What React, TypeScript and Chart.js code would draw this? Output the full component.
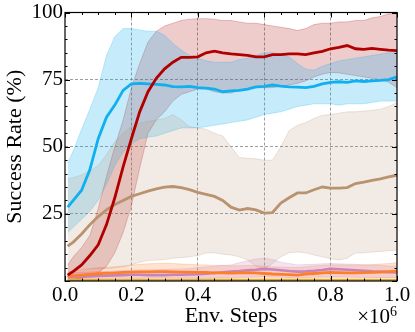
import React, { useEffect, useRef } from 'react';
import { Chart, registerables } from 'chart.js';
Chart.register(...registerables);

const steps = [0.008, 0.025, 0.05, 0.075, 0.1, 0.125, 0.15, 0.175, 0.2, 0.225, 0.25, 0.275, 0.3, 0.325, 0.35, 0.375, 0.4, 0.425, 0.45, 0.475, 0.5, 0.525, 0.55, 0.575, 0.6, 0.625, 0.65, 0.675, 0.7, 0.725, 0.75, 0.775, 0.8, 0.825, 0.85, 0.875, 0.9, 0.925, 0.95, 0.975, 1.0];

const blueMean = [27.5, 30, 33.8, 41.5, 53, 61, 65.5, 71, 73.4, 73.6, 73.4, 73.2, 73, 72.4, 72.3, 72.5, 72, 71.8, 71.5, 70.5, 70.8, 71, 71.5, 72.3, 72.5, 73, 72.6, 72.3, 72.2, 72, 72.5, 73.4, 74, 74.2, 74, 74.5, 74.3, 74.5, 74.7, 75, 76];
const blueUpper = [44, 48.5, 56.5, 64, 72, 84, 91, 94, 94, 93.5, 93, 93, 91.5, 88.5, 86, 84, 83, 82, 81.5, 81.5, 81.5, 82.5, 83, 84, 85, 85, 84.5, 83.5, 81, 79, 78.5, 80, 81, 82, 82.5, 83, 83.5, 84, 84.5, 85, 85];
const blueLower = [18, 20, 23, 26, 30, 36, 43, 48, 51, 53, 53.5, 54, 55, 56, 57, 57, 57, 57.5, 58, 58.5, 59, 59.5, 60, 61, 62, 62.5, 63, 64, 65, 65.5, 66, 66, 66, 65.5, 66, 66, 66, 66.5, 67, 67, 67];

const redMean = [2.2, 3.6, 6, 9.5, 13.5, 21, 31, 42.5, 53, 63, 70.5, 75.5, 79, 81.5, 83.3, 83.3, 83.5, 85, 85.6, 85, 84.6, 84.3, 84, 83.5, 83.5, 84.3, 84.3, 84.6, 84.6, 84.3, 85, 85.5, 86.5, 87, 87.7, 86.5, 86.3, 86.6, 86.3, 86, 85.8];
const redUpper = [6, 9, 12.5, 17, 27, 39, 50, 60, 72, 81, 89, 93, 95, 96, 97, 97.5, 97.7, 97.7, 97.5, 97, 97, 96.5, 96, 96, 95.5, 95, 94.5, 94, 93.3, 94, 95.5, 96, 96, 96.5, 96.5, 97, 97, 98, 98.5, 99.5, 99.6];
const redLower = [0, 0.5, 1, 2, 3, 5.5, 10.5, 18, 28, 42, 55, 60, 63, 67, 69.5, 70.5, 71.5, 71.5, 70.5, 70, 70, 71, 71.7, 72, 72, 72, 72.5, 73, 73.6, 74.5, 76, 77, 77.7, 77.5, 77, 76.5, 76, 75.5, 75, 74, 72];

const brownMean = [13, 14.5, 17.5, 21, 24, 26.5, 28.5, 30, 31.5, 32.5, 33.5, 34.3, 35, 35.2, 34.8, 34, 33, 32.3, 31.5, 30, 27.5, 26.4, 27, 26.5, 25.3, 25.5, 29, 31, 32.8, 32.8, 34, 35, 34.6, 34.6, 34.8, 36.3, 36.8, 37.5, 38, 38.8, 39.4];
const brownUpper = [38, 38.5, 39.5, 41, 43, 47, 52, 55, 57.5, 58.7, 59.5, 60, 60.5, 62, 60, 57.5, 57, 56.5, 55, 54, 50, 46, 45.7, 45.5, 45, 45, 50, 56, 58, 59, 60.5, 61.7, 62, 62.5, 63, 63, 63.3, 63.6, 64, 65, 66.5];
const brownLower = [4, 4, 4.5, 4.5, 4.5, 4.5, 4.8, 5.2, 6, 7, 7.6, 7.8, 8, 8.5, 8.7, 9, 9.5, 10.4, 10.5, 10, 9.7, 9, 7.8, 5.5, 4.5, 6.5, 9, 10.5, 10.8, 10.5, 9.7, 9, 8.3, 7.8, 8.5, 10.4, 10.5, 10.8, 11, 11.3, 11.5];

const orangeMean = [1.7, 1.9, 2.2, 2.5, 2.7, 2.9, 3.0, 3.2, 3.3, 3.4, 3.4, 3.5, 3.5, 3.4, 3.3, 3.3, 3.2, 3.2, 3.0, 3.0, 2.9, 3.0, 3.1, 3.0, 2.8, 2.6, 2.5, 2.4, 2.2, 2.6, 2.8, 3.0, 3.2, 3.1, 3.0, 3.0, 3.1, 3.2, 3.3, 3.5, 3.7];
const orangeUpper = [3.4, 3.7, 4.1, 4.5, 4.9, 5.1, 5.3, 5.6, 5.9, 6.2, 6.4, 6.5, 6.6, 6.5, 6.3, 6.2, 6.0, 6.0, 5.8, 5.8, 5.6, 5.7, 5.8, 5.7, 5.5, 5.3, 5.2, 5.1, 5.0, 5.3, 5.6, 5.8, 6.0, 6.0, 5.9, 5.9, 6.0, 6.1, 6.3, 6.5, 6.8];
const orangeLower = [0.6, 0.7, 0.8, 0.9, 0.9, 0.9, 1.0, 1.0, 1.0, 1.0, 1.1, 1.1, 1.2, 1.1, 1.1, 1.1, 1.0, 1.0, 1.0, 1.0, 0.9, 1.0, 1.0, 1.0, 0.9, 0.9, 0.8, 0.8, 0.8, 0.9, 0.9, 1.0, 1.0, 1.0, 1.0, 1.0, 1.0, 1.0, 1.1, 1.1, 1.2];

const purpleMean = [1.4, 1.5, 1.6, 1.7, 1.9, 2.0, 2.1, 2.2, 2.3, 2.3, 2.2, 2.2, 2.2, 2.3, 2.3, 2.4, 2.5, 2.7, 3.0, 3.2, 3.5, 3.7, 4.0, 4.2, 4.5, 4.3, 4.0, 3.7, 3.5, 3.6, 3.8, 4.1, 4.5, 4.4, 4.2, 4.0, 3.8, 3.6, 3.5, 3.3, 3.2];
const purpleUpper = [3.0, 3.1, 3.2, 3.3, 3.5, 3.6, 3.8, 3.9, 4.0, 4.1, 4.1, 4.2, 4.3, 4.4, 4.5, 4.7, 5.0, 5.2, 5.5, 5.8, 6.0, 6.8, 7.5, 8.2, 8.5, 8.0, 7.0, 6.5, 6.0, 6.1, 6.2, 6.4, 6.5, 6.4, 6.3, 6.2, 6.0, 5.9, 5.8, 5.6, 5.5];
const purpleLower = [0.4, 0.4, 0.4, 0.5, 0.5, 0.6, 0.6, 0.6, 0.7, 0.7, 0.7, 0.7, 0.7, 0.7, 0.7, 0.8, 0.8, 0.9, 1.0, 1.1, 1.2, 1.3, 1.4, 1.5, 1.6, 1.5, 1.4, 1.3, 1.2, 1.3, 1.4, 1.5, 1.6, 1.6, 1.5, 1.4, 1.4, 1.3, 1.3, 1.2, 1.2];

const goldMean = [0.3, 0.3, 0.3, 0.3, 0.3, 0.3, 0.3, 0.3, 0.3, 0.3, 0.3, 0.3, 0.3, 0.3, 0.3, 0.3, 0.3, 0.3, 0.3, 0.3, 0.3, 0.3, 0.3, 0.3, 0.3, 0.3, 0.3, 0.3, 0.3, 0.3, 0.3, 0.3, 0.3, 0.3, 0.3, 0.3, 0.3, 0.3, 0.3, 0.3, 0.3];

const xTickLabels = ['0.0', '0.2', '0.4', '0.6', '0.8', '1.0'];
const yTickLabels = ['', '25', '50', '75', '100'];

const FONT = "'Liberation Serif', 'DejaVu Serif', serif";

const rgba = (rgb: number[], a: number) => `rgba(${rgb[0]},${rgb[1]},${rgb[2]},${a})`;

const BLUE = [16, 176, 240];
const RED = [176, 0, 0];
const BROWN = [185, 146, 112];
const ORANGE = [255, 127, 40];
const PURPLE = [200, 130, 190];
const GOLD = [222, 176, 30];

const toPts = (arr: number[]) => arr.map((v, i) => ({ x: steps[i], y: v }));

const frameTicks = {
  id: 'frameTicks',
  afterDatasetsDraw(chart: any) {
    const { ctx, chartArea, scales } = chart;
    const { left, right, top, bottom } = chartArea;
    const xs = scales.x;
    const ys = scales.y;
    ctx.save();
    ctx.strokeStyle = '#000';
    ctx.lineWidth = 1;
    ctx.beginPath();
    for (let i = 0; i <= 20; i++) {
      const px = Math.round(xs.getPixelForValue(i * 0.05)) + 0.5;
      const len = i % 4 === 0 ? 5 : 2.5;
      ctx.moveTo(px, bottom);
      ctx.lineTo(px, bottom - len);
      ctx.moveTo(px, top);
      ctx.lineTo(px, top + len);
    }
    for (let i = 0; i <= 20; i++) {
      const py = Math.round(ys.getPixelForValue(i * 5)) + 0.5;
      const len = i % 5 === 0 ? 5 : 2.5;
      ctx.moveTo(left, py);
      ctx.lineTo(left + len, py);
      ctx.moveTo(right, py);
      ctx.lineTo(right - len, py);
    }
    ctx.stroke();
    ctx.lineWidth = 1.2;
    ctx.strokeRect(left, top, right - left, bottom - top);
    ctx.fillStyle = '#000';
    ctx.font = `21px ${FONT}`;
    ctx.textAlign = 'right';
    ctx.textBaseline = 'alphabetic';
    ctx.fillText('×10', right - 7, 323);
    ctx.font = `14px ${FONT}`;
    ctx.textAlign = 'left';
    ctx.fillText('6', right - 7, 316);
    ctx.restore();
  },
};

export default function App() {
  const ref = useRef<HTMLCanvasElement>(null);
  useEffect(() => {
    if (!ref.current) return;
    const line = (label: string, data: number[], rgb: number[], order: number, width = 2.8) => ({
      label,
      data: toPts(data),
      borderColor: rgba(rgb, 1),
      backgroundColor: rgba(rgb, 1),
      borderWidth: width,
      pointRadius: 0,
      fill: false,
      tension: 0,
      order,
    });
    const bandPair = (label: string, lower: number[], upper: number[], rgb: number[], alpha: number, order: number) => [
      {
        label: label + ' lower',
        data: toPts(lower),
        borderColor: rgba(rgb, 0.3),
        borderWidth: 0.8,
        pointRadius: 0,
        fill: false,
        tension: 0,
        order,
      },
      {
        label: label + ' upper',
        data: toPts(upper),
        borderColor: rgba(rgb, 0.3),
        backgroundColor: rgba(rgb, alpha),
        borderWidth: 0.8,
        pointRadius: 0,
        fill: '-1',
        tension: 0,
        order,
      },
    ];
    const datasets: any[] = [
      ...bandPair('brown', brownLower, brownUpper, BROWN, 0.18, 20),
      ...bandPair('blue', blueLower, blueUpper, BLUE, 0.24, 21),
      ...bandPair('red', redLower, redUpper, RED, 0.2, 22),
      ...bandPair('purple', purpleLower, purpleUpper, PURPLE, 0.22, 23),
      ...bandPair('orange', orangeLower, orangeUpper, ORANGE, 0.22, 24),
      line('gold', goldMean, GOLD, 6, 2.2),
      line('purple', purpleMean, PURPLE, 5, 2.6),
      line('orange', orangeMean, ORANGE, 4, 2.8),
      line('brown', brownMean, BROWN, 3, 2.8),
      line('blue', blueMean, BLUE, 2, 2.8),
      line('red', redMean, RED, 1, 2.8),
    ];
    const gridColor = (edgeA: number, edgeB: number) => (c: any) => {
      const v = c.tick ? c.tick.value : null;
      if (v === null || Math.abs(v - edgeA) < 1e-9 || Math.abs(v - edgeB) < 1e-9) return 'rgba(0,0,0,0)';
      return 'rgba(110,110,110,0.85)';
    };
    const chart = new Chart(ref.current, {
      type: 'line',
      data: { datasets },
      plugins: [frameTicks],
      options: {
        animation: false,
        responsive: false,
        devicePixelRatio: 1,
        layout: { padding: { left: 0, right: 18, top: 11, bottom: 0 } },
        plugins: { legend: { display: false }, tooltip: { enabled: false } },
        scales: {
          x: {
            type: 'linear',
            min: 0,
            max: 1,
            afterFit: (s: any) => { s.height = 51; },
            ticks: {
              stepSize: 0.2,
              autoSkip: false,
              maxRotation: 0,
              padding: 4,
              color: '#000',
              font: { family: FONT, size: 21, lineHeight: 1 },
              callback: (v: any) => xTickLabels[Math.round(Number(v) / 0.2)] ?? '',
            },
            grid: { drawTicks: false, color: gridColor(0, 1), lineWidth: 0.8 },
            border: { display: false, dash: [3, 2] },
            title: { display: true, text: 'Env. Steps', color: '#000', font: { family: FONT, size: 22 }, padding: { top: 0, bottom: 3 } },
          },
          y: {
            type: 'linear',
            min: 0,
            max: 100,
            afterFit: (s: any) => { s.width = 65; },
            ticks: {
              stepSize: 25,
              padding: 2,
              color: '#000',
              font: { family: FONT, size: 21, lineHeight: 1 },
              callback: (v: any) => yTickLabels[Math.round(Number(v) / 25)] ?? '',
            },
            grid: { drawTicks: false, color: gridColor(0, 100), lineWidth: 0.8 },
            border: { display: false, dash: [3, 2] },
            title: { display: true, text: 'Success Rate (%)', color: '#000', font: { family: FONT, size: 22 }, padding: { top: 2, bottom: 0 } },
          },
        },
      } as any,
    });
    return () => chart.destroy();
  }, []);
  return (
    <div style={{ position: 'absolute', left: 0, top: 0, width: 415, height: 332, background: '#fff' }}>
      <canvas ref={ref} width={415} height={332} />
    </div>
  );
}
